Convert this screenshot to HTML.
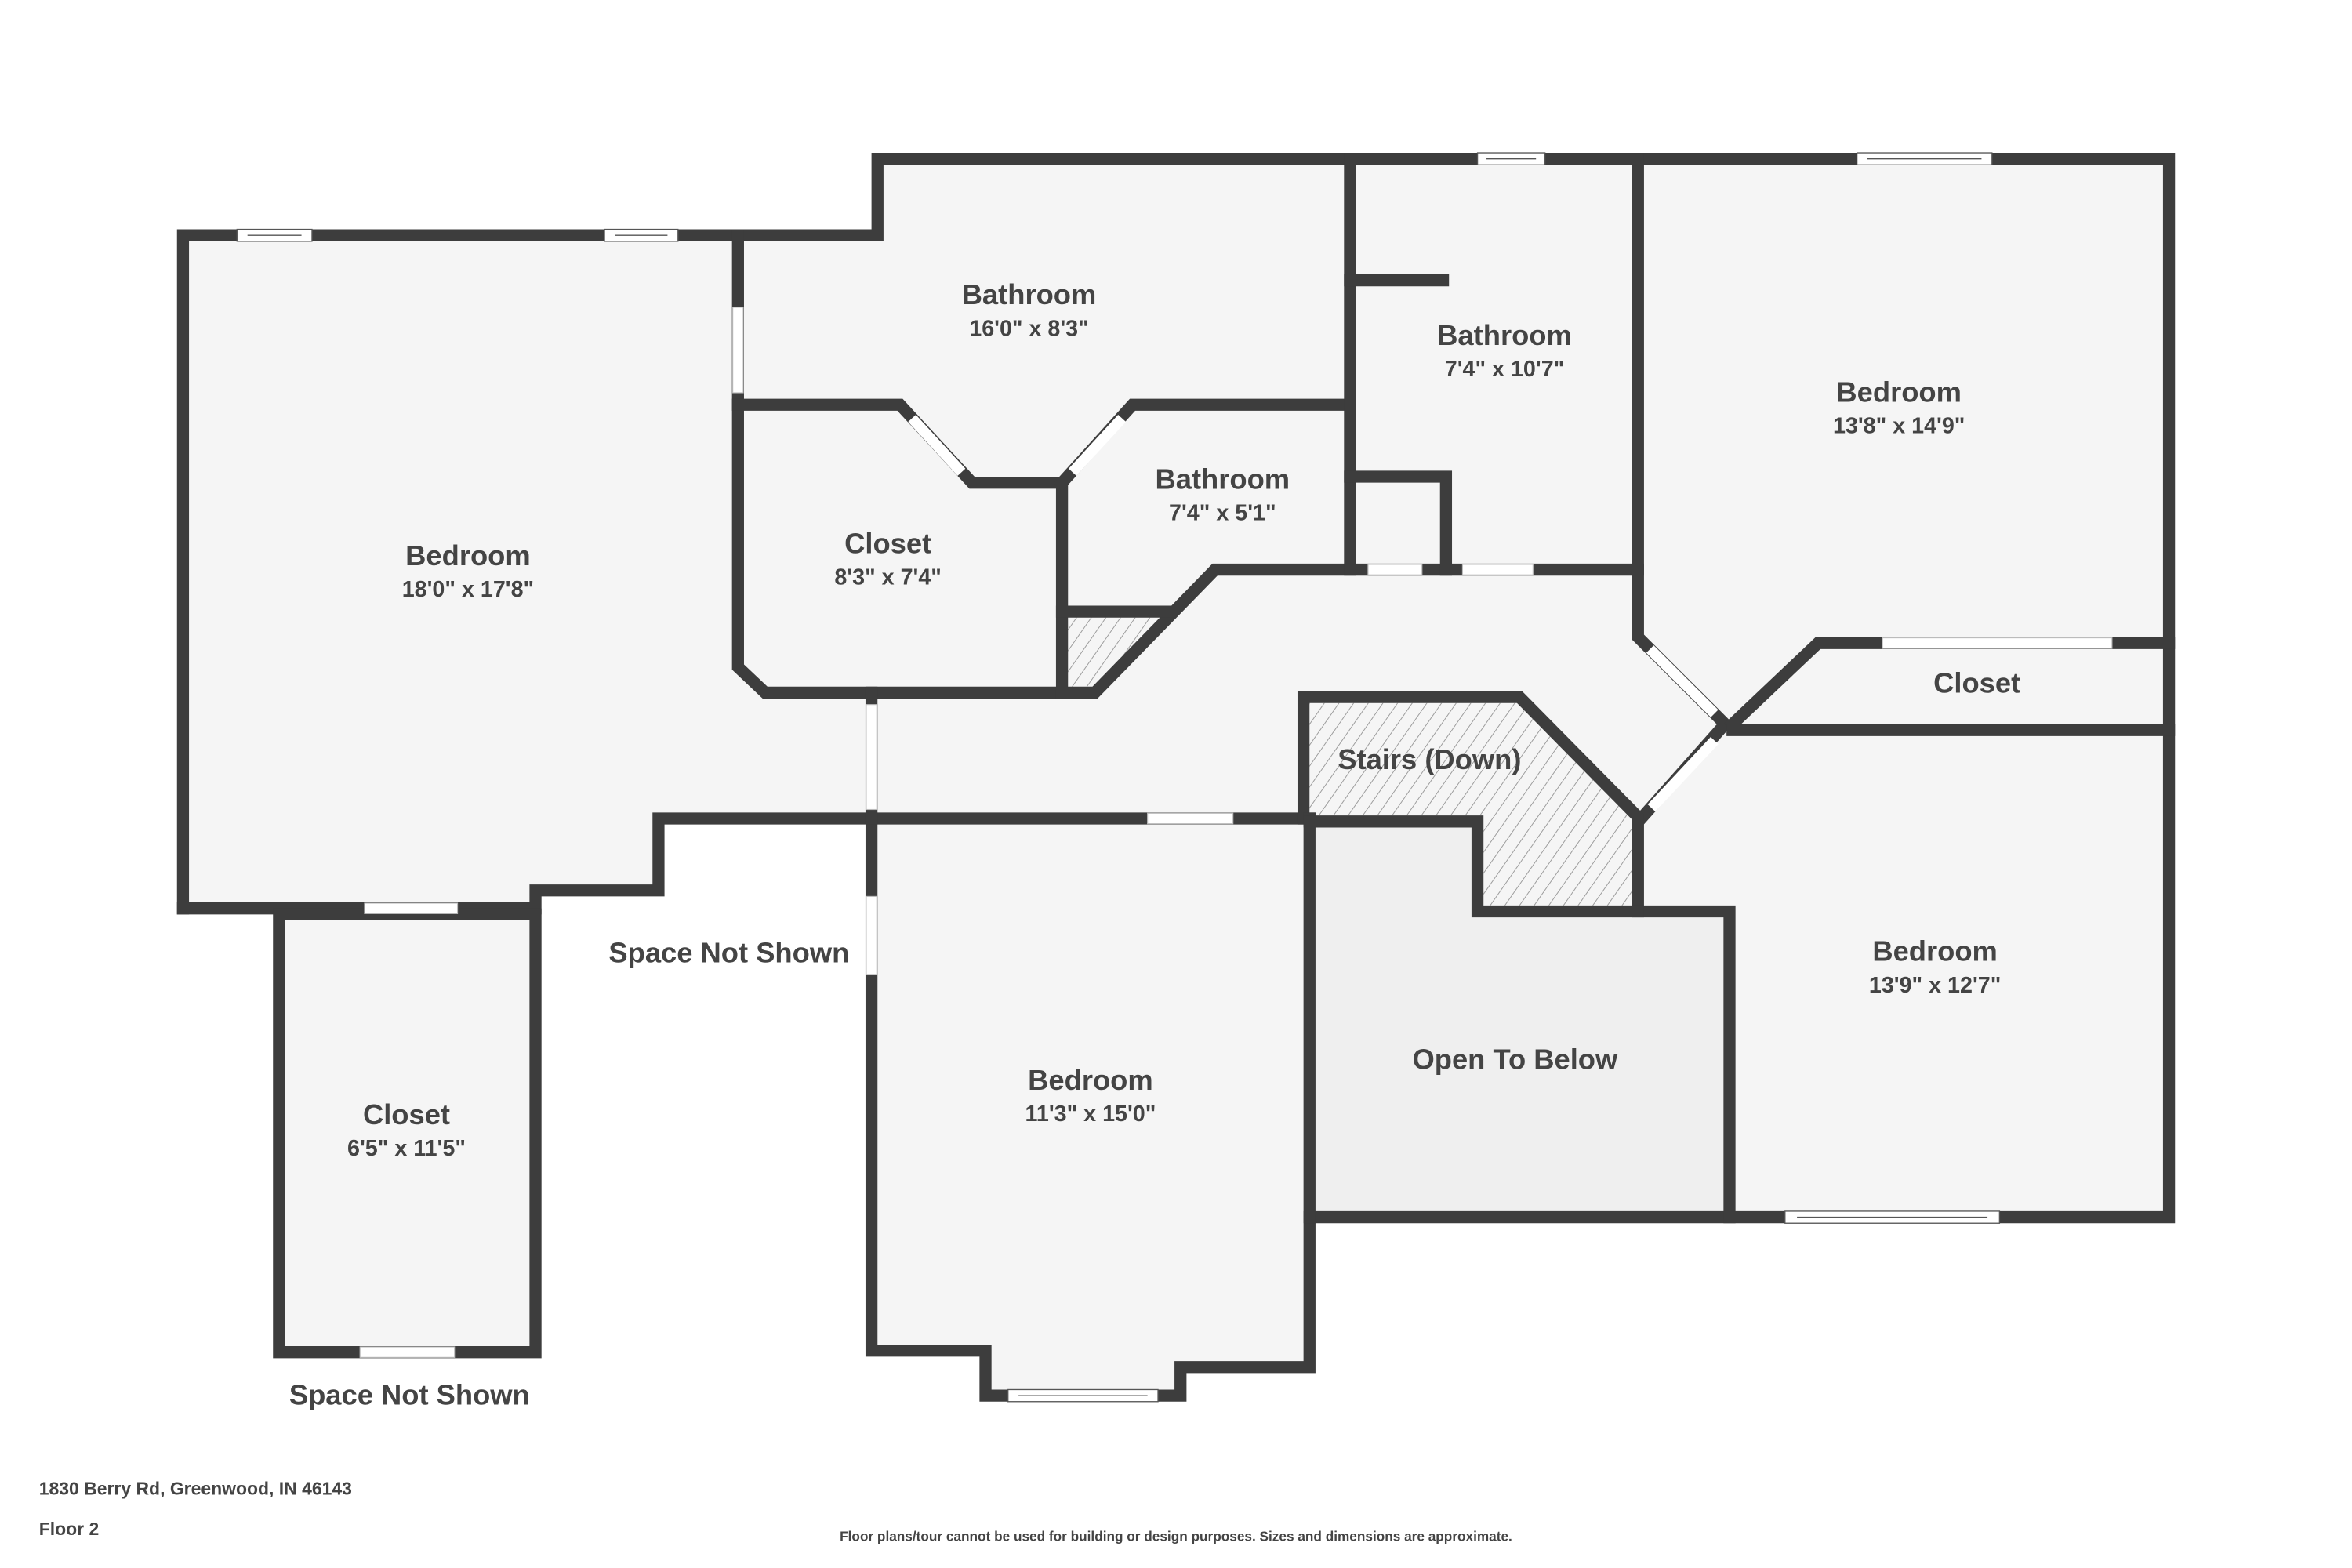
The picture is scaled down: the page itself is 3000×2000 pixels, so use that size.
<!DOCTYPE html>
<html><head><meta charset="utf-8"><style>
html,body{margin:0;padding:0;background:#fff;}
svg{display:block;}
text{font-family:"Liberation Sans",sans-serif;fill:#444;text-anchor:middle;}
.n{font-size:19px;font-weight:bold;}
.d{font-size:15px;font-weight:bold;}
</style></head><body>
<svg width="3000" height="2000" viewBox="0 0 1568 1046" preserveAspectRatio="none" xmlns="http://www.w3.org/2000/svg">
<defs>
<pattern id="h" patternUnits="userSpaceOnUse" width="8" height="8" patternTransform="rotate(35)">
<rect width="8" height="8" fill="#f5f5f5"/><line x1="0" y1="0" x2="0" y2="8" stroke="#999" stroke-width="1"/>
</pattern>
</defs>
<rect width="1568" height="1046" fill="#fff"/>
<polygon fill="#f5f5f5" points="122,157 585,157 585,106 1446,106 1446,812 873,812 873,912 787,912 787,931 657,931 657,901 581,901 581,546 439,546 439,594 357,594 357,606 122,606"/>
<rect x="186" y="610" width="171" height="292" fill="#f5f5f5"/>
<polygon fill="#efefef" points="877,552 981,552 981,612 1149,612 1149,808 877,808"/>
<polygon fill="url(#h)" points="869,469 1011,469 1088,545 1088,604 989,604 989,544 869,544"/>
<polygon fill="url(#h)" points="712,412 776,412 730,458 712,458"/>
<g fill="none" stroke="#3d3d3d" stroke-width="8" stroke-linejoin="miter" stroke-linecap="square">
<polyline points="122,606 122,157 585,157 585,106 1446,106 1446,812 873,812 873,912 787,912 787,931 657,931 657,901 581,901 581,546"/>
<polyline points="122,606 357,606 357,594 439,594 439,546 873,546"/>
<polygon points="186,610 357,610 357,902 186,902"/>
<polyline points="492,157 492,445 510,462 730,462 810,380 1092,380"/>
<polyline points="492,270 600,270 648,322 708,322 708,462"/>
<polyline points="708,322 755,270 900,270"/>
<line x1="708" y1="408" x2="780" y2="408"/>
<line x1="900" y1="106" x2="900" y2="380"/>
<line x1="900" y1="187" x2="962" y2="187"/>
<polyline points="900,318 964,318 964,380"/>
<polyline points="1092,106 1092,425 1150,483 1095,545"/>
<polyline points="1155,483 1212,429 1446,429"/>
<line x1="1155" y1="487" x2="1446" y2="487"/>
<polyline points="869,546 869,465 1013,465 1092,545 1092,608 1153,608 1153,812"/>
<polyline points="873,546 873,812"/>
<polyline points="873,548 985,548 985,608 1092,608"/>
<line x1="581" y1="462" x2="581" y2="546"/>
</g>
<g fill="#fff" stroke="#bbb" stroke-width="0.6">
<rect x="488.5" y="205" width="7" height="57"/>
<rect x="577.5" y="470" width="7" height="70"/>
<rect x="577.5" y="598" width="7" height="52"/>
<rect x="765" y="542.5" width="57" height="7"/>
<rect x="912" y="376.5" width="36" height="7"/>
<rect x="975" y="376.5" width="47" height="7"/>
<rect x="1255" y="425.5" width="153" height="7"/>
<rect x="243" y="602.5" width="62" height="7"/>
<rect x="240" y="898.5" width="63" height="7"/>
<line x1="608" y1="279" x2="641" y2="315" stroke="#fff" stroke-width="7"/>
<line x1="715" y1="315" x2="748" y2="279" stroke="#fff" stroke-width="7"/>
<line x1="1100" y1="433" x2="1143" y2="476" stroke="#fff" stroke-width="7"/>
<line x1="1143" y1="494" x2="1101" y2="539" stroke="#fff" stroke-width="7"/>
</g>
<g fill="#fff" stroke="#555" stroke-width="0.7">
<rect x="158" y="153" width="50" height="8"/><line x1="165" y1="157" x2="201" y2="157"/>
<rect x="403" y="153" width="49" height="8"/><line x1="410" y1="157" x2="445" y2="157"/>
<rect x="985" y="102" width="45" height="8"/><line x1="991" y1="106" x2="1024" y2="106"/>
<rect x="1238" y="102" width="90" height="8"/><line x1="1245" y1="106" x2="1321" y2="106"/>
<rect x="1190" y="808" width="143" height="8"/><line x1="1198" y1="812" x2="1325" y2="812"/>
<rect x="672" y="927" width="100" height="8"/><line x1="679" y1="931" x2="765" y2="931"/>
</g>
<text class="n" x="312" y="377">Bedroom</text><text class="d" x="312" y="398">18'0" x 17'8"</text>
<text class="n" x="686" y="203">Bathroom</text><text class="d" x="686" y="224">16'0" x 8'3"</text>
<text class="n" x="1003" y="230">Bathroom</text><text class="d" x="1003" y="251">7'4" x 10'7"</text>
<text class="n" x="1266" y="268">Bedroom</text><text class="d" x="1266" y="289">13'8" x 14'9"</text>
<text class="n" x="592" y="369">Closet</text><text class="d" x="592" y="390">8'3" x 7'4"</text>
<text class="n" x="815" y="326">Bathroom</text><text class="d" x="815" y="347">7'4" x 5'1"</text>
<text class="n" x="1318" y="462">Closet</text>
<text class="n" x="953" y="513">Stairs (Down)</text>
<text class="n" x="1010" y="713">Open To Below</text>
<text class="n" x="1290" y="641">Bedroom</text><text class="d" x="1290" y="662">13'9" x 12'7"</text>
<text class="n" x="727" y="727">Bedroom</text><text class="d" x="727" y="748">11'3" x 15'0"</text>
<text class="n" x="271" y="750">Closet</text><text class="d" x="271" y="771">6'5" x 11'5"</text>
<text class="n" x="486" y="642">Space Not Shown</text>
<text class="n" x="273" y="937">Space Not Shown</text>
<text x="26" y="997" style="font-size:12px;font-weight:bold;text-anchor:start">1830 Berry Rd, Greenwood, IN 46143</text>
<text x="26" y="1024" style="font-size:12px;font-weight:bold;text-anchor:start">Floor 2</text>
<text x="784" y="1028" style="font-size:9px;font-weight:bold">Floor plans/tour cannot be used for building or design purposes. Sizes and dimensions are approximate.</text>
</svg>
</body></html>
